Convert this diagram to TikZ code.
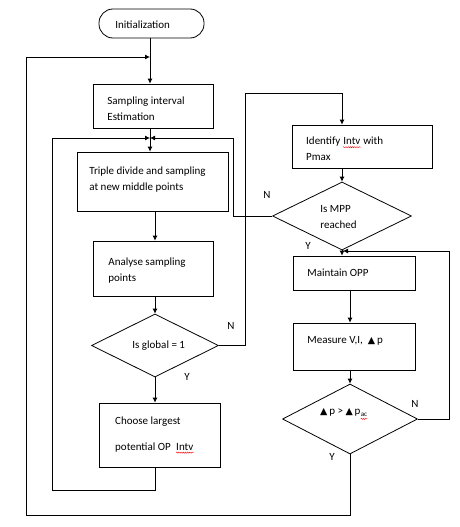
\documentclass[tikz,border=0pt]{standalone}
\usepackage{fontspec}
\setmainfont{Carlito}
\newfontfamily\symf{DejaVu Sans}
\usetikzlibrary{shapes.geometric,arrows.meta,decorations.pathmorphing}
\newcommand\redwave[1]{\tikz[baseline=(w.base)]{\node[inner sep=0pt,anchor=base] (w) {#1};
  \draw[red,line width=0.4pt,decorate,decoration={snake,amplitude=0.6pt,segment length=2.2pt}]
  ([yshift=-2.4pt]w.base west) -- ([yshift=-2.4pt]w.base east);}}
\newcommand\tri{{\symf\fontsize{9.5}{9.5}\selectfont ▲}}
\begin{document}
\begin{tikzpicture}[x=1pt,y=-1pt,line width=0.8pt,
  >={Latex[length=5pt,width=5pt]},
  proc/.style={draw,rectangle,inner sep=0pt},
  term/.style={draw,rectangle,rounded corners=14pt,inner sep=0pt},
  dec/.style={draw,diamond,inner sep=0pt},
  txt/.style={font=\fontsize{11}{16}\selectfont,align=left,inner sep=0pt,anchor=west},
  lbl/.style={font=\fontsize{11}{12}\selectfont,inner sep=0pt},
  flow/.style={->}]
\fill[white] (0,0) rectangle (459,527);
\useasboundingbox (0,0) rectangle (459,527);

% shapes
\node[term,minimum width=105pt,minimum height=29pt] (init) at (151.5,23.5) {};
\node[proc,minimum width=120pt,minimum height=44pt] (samp) at (153,106) {};
\node[proc,minimum width=151pt,minimum height=59pt] (trip) at (152.5,181.5) {};
\node[proc,minimum width=120pt,minimum height=55pt] (anal) at (153,268.5) {};
\node[dec,minimum width=127pt,minimum height=63pt] (glob) at (155,345.5) {};
\node[proc,minimum width=121pt,minimum height=64pt] (choo) at (159.5,435) {};
\node[proc,minimum width=140pt,minimum height=43pt] (iden) at (362,146.5) {};
\node[dec,minimum width=139pt,minimum height=68pt] (mpp) at (342,216) {};
\node[proc,minimum width=122pt,minimum height=34pt] (main) at (354,273) {};
\node[proc,minimum width=122pt,minimum height=47pt] (meas) at (354,346.5) {};
\node[dec,minimum width=135pt,minimum height=70pt] (dp) at (350,419) {};

% texts
\node[txt] (tinit) at (115,25) {Initialization};
\node[txt] (tsamp) at (107,109) {Sampling interval\\Estimation};
\node[txt] (ttrip) at (89,180) {Triple divide and sampling\\at new middle points};
\node[txt] (tanal) at (108,271) {Analyse sampling\\points};
\node[txt] (tglob) at (132,346) {Is global = 1};
\node[txt] (tchoo) at (115,435) {Choose largest\\[10pt]potential OP \ \redwave{Intv}};
\node[txt] (tiden) at (306,149) {Identify \redwave{Intv} with\\Pmax};
\node[txt] (tmpp) at (320,217) {Is MPP\\reached};
\node[txt] (tmain) at (307,273) {Maintain OPP};
\node[txt] (tmeas) at (307,341) {Measure V,I, \ \tri\,p};
\node[txt] (tdp) at (320,414) {\tri\,p > \tri\,p\raisebox{-2pt}{\fontsize{7}{7}\selectfont\redwave{ac}}};

% branch labels
\node[lbl] (ln1) at (231,326) {N};
\node[lbl] (ly1) at (187,377) {Y};
\node[lbl] (ln2) at (267,195) {N};
\node[lbl] (ly2) at (308,246) {Y};
\node[lbl] (ln3) at (415,404) {N};
\node[lbl] (ly3) at (332,457) {Y};

% helper coordinates
\coordinate (cA) at (150,0);
\coordinate (cB) at (155,0);
\coordinate (cC) at (342,0);
\coordinate (cD) at (350,0);
\coordinate (j1) at (150,57);
\coordinate (j2) at (150,138);
\coordinate (j3) at (343,251);
\coordinate (oL) at (26,515);
\coordinate (iL) at (52,490);
\coordinate (rx) at (233,0);
\coordinate (gx) at (245,93);
\coordinate (rx2) at (449,251);

% connectors
\draw[flow] (init.south -| cA) -- (samp.north -| cA);
\draw[flow] (samp.south -| cA) -- (trip.north -| cA);
\draw[flow] (trip.south -| cB) -- (anal.north -| cB);
\draw[flow] (anal.south -| cB) -- (glob.north);
\draw[flow] (glob.south) -- (choo.north -| glob.south);
\draw[flow] (choo.south -| cB) |- (iL) |- (j2);
\draw[flow] (mpp.west) -- (mpp.west -| rx) |- (j2);
\draw[flow] (glob.east) -| (gx) -| (iden.north -| cC);
\draw[flow] (iden.south -| cC) -- (mpp.north);
\draw[flow] (mpp.south) -- (main.north -| mpp.south);
\draw[flow] (main.south -| cD) -- (meas.north -| cD);
\draw[flow] (meas.south -| cD) -- (dp.north);
\draw[flow] (dp.east) -| (rx2) -- (j3);
\draw[flow] (dp.south) -- (dp.south |- oL) -- (oL) |- (j1);
\end{tikzpicture}
\end{document}
